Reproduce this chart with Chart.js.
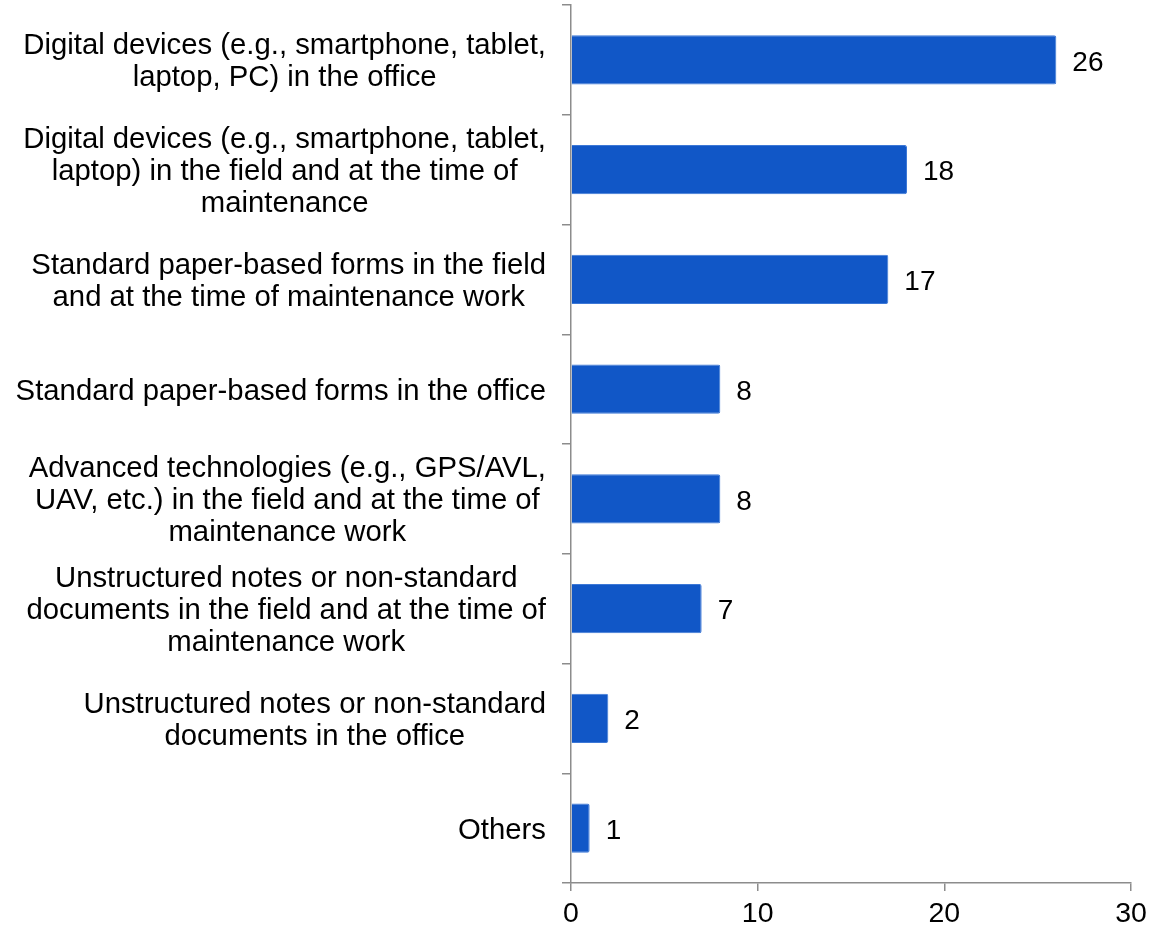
<!DOCTYPE html>
<html>
<head>
<meta charset="utf-8">
<script src="https://cdn.jsdelivr.net/npm/chart.js@4"></script>
<style>
  html, body { margin: 0; padding: 0; background: #fff; }
  canvas { display: block; }
</style>
</head>
<body>
<canvas id="methods" width="1161" height="926"></canvas>
<script>
// categories, one array of lines per label
const categories = [
  ['Digital devices (e.g., smartphone, tablet,', 'laptop, PC) in the office'],
  ['Digital devices (e.g., smartphone, tablet,', 'laptop) in the field and at the time of', 'maintenance'],
  ['Standard paper-based forms in the field', 'and at the time of maintenance work'],
  ['Standard paper-based forms in the office'],
  ['Advanced technologies (e.g., GPS/AVL,', 'UAV, etc.) in the field and at the time of', 'maintenance work'],
  ['Unstructured notes or non-standard', 'documents in the field and at the time of', 'maintenance work'],
  ['Unstructured notes or non-standard', 'documents in the office'],
  ['Others']
];
const counts = [26, 18, 17, 8, 8, 7, 2, 1];
const xTicks = [0, 10, 20, 30];

const FONT = '"Liberation Sans", Arial, sans-serif';
const AXIS_GREY = '#8c8c8c';

// category labels: block right-aligned, lines centred inside the block
const catLabels = {
  id: 'catLabels',
  afterDraw(chart) {
    const ctx = chart.ctx;
    const y = chart.scales.y;
    const right = chart.chartArea.left - 25;
    const lh = 32;
    ctx.save();
    ctx.font = '29.3px ' + FONT;
    ctx.fillStyle = '#000';
    ctx.textAlign = 'center';
    ctx.textBaseline = 'middle';
    categories.forEach((lines, i) => {
      let w = 0;
      lines.forEach(l => { w = Math.max(w, ctx.measureText(l).width); });
      const cx = right - w / 2;
      const yc = y.getPixelForValue(i) + 2.5;
      const y0 = yc - (lines.length - 1) * lh / 2;
      lines.forEach((l, k) => ctx.fillText(l, cx, y0 + k * lh));
    });
    ctx.restore();
  }
};

// value labels at the end of each bar
const valueLabels = {
  id: 'valueLabels',
  afterDatasetsDraw(chart) {
    const ctx = chart.ctx;
    const meta = chart.getDatasetMeta(0);
    ctx.save();
    ctx.font = '28px ' + FONT;
    ctx.fillStyle = '#000';
    ctx.textAlign = 'left';
    ctx.textBaseline = 'middle';
    meta.data.forEach((bar, i) => {
      ctx.fillText(String(counts[i]), bar.x + 16, bar.y + 3);
    });
    ctx.restore();
  }
};

new Chart(document.getElementById('methods'), {
  type: 'bar',
  data: {
    labels: categories.map(l => l.join(' ')),
    datasets: [{
      data: counts,
      backgroundColor: '#1157c7',
      borderColor: '#3d78d6',
      borderWidth: 1,
      borderRadius: 2,
      borderSkipped: 'start',
      barPercentage: 0.45,
      categoryPercentage: 1
    }]
  },
  options: {
    indexAxis: 'y',
    responsive: false,
    animation: false,
    layout: { padding: { top: 5, right: 30, bottom: 0, left: 0 } },
    plugins: {
      legend: { display: false },
      tooltip: { enabled: false }
    },
    scales: {
      y: {
        type: 'category',
        ticks: { display: false },
        grid: {
          offset: true,
          drawOnChartArea: false,
          drawTicks: true,
          tickLength: 9,
          color: AXIS_GREY,
          lineWidth: 1.5
        },
        border: { color: AXIS_GREY, width: 1.5 },
        afterFit(scale) { scale.width = 571; }
      },
      x: {
        min: 0,
        max: 30,
        afterBuildTicks(scale) { scale.ticks = xTicks.map(v => ({ value: v })); },
        ticks: {
          font: { family: FONT, size: 28.5 },
          color: '#000',
          padding: 6
        },
        grid: {
          drawOnChartArea: false,
          drawTicks: true,
          tickLength: 8,
          color: AXIS_GREY,
          lineWidth: 1.5
        },
        border: { color: AXIS_GREY, width: 1.5 },
        afterFit(scale) { scale.height = 43; }
      }
    }
  },
  plugins: [catLabels, valueLabels]
});
</script>
</body>
</html>
